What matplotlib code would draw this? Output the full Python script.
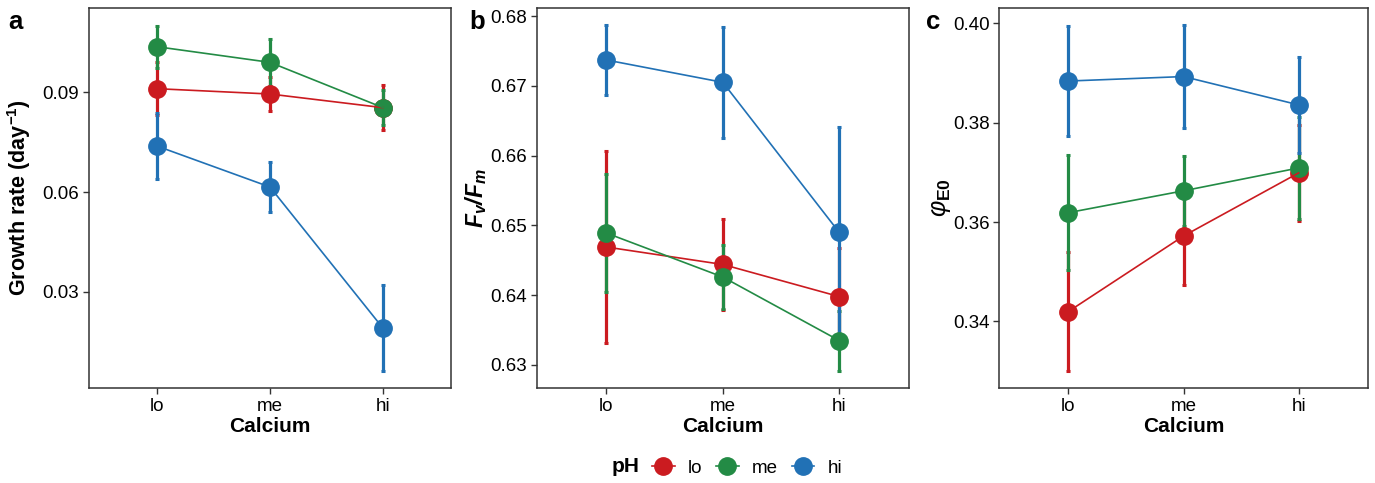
import numpy as np
import matplotlib.pyplot as plt
from matplotlib.lines import Line2D

plt.rcParams['font.family'] = ['Liberation Sans', 'DejaVu Sans']
plt.rcParams['mathtext.fontset'] = 'custom'
plt.rcParams['mathtext.rm'] = 'Liberation Sans'
plt.rcParams['mathtext.it'] = 'Liberation Sans:italic'
plt.rcParams['mathtext.bf'] = 'Liberation Sans:bold'
plt.rcParams['mathtext.bfit'] = 'Liberation Sans:bold:italic'

# данные
calcium = ['lo', 'me', 'hi']
ph_levels = ['lo', 'me', 'hi']
colors = {'lo': '#CB1B20', 'me': '#238B45', 'hi': '#2171B5'}

growth_mean = {'lo': [0.0910, 0.0894, 0.0853],
               'me': [0.1036, 0.0989, 0.0853],
               'hi': [0.0738, 0.0615, 0.0191]}
growth_err = {'lo': [0.0079, 0.0050, 0.0067],
              'me': [0.0063, 0.0070, 0.0053],
              'hi': [0.0098, 0.0075, 0.0129]}

fvfm_mean = {'lo': [0.6469, 0.6444, 0.6398],
             'me': [0.6489, 0.6426, 0.6335],
             'hi': [0.6737, 0.6705, 0.6490]}
fvfm_err = {'lo': [0.0138, 0.0065, 0.0069],
            'me': [0.0085, 0.0046, 0.0043],
            'hi': [0.0050, 0.0080, 0.0151]}

phi_mean = {'lo': [0.3420, 0.3572, 0.3699],
            'me': [0.3619, 0.3663, 0.3709],
            'hi': [0.3884, 0.3893, 0.3836]}
phi_err = {'lo': [0.0120, 0.0099, 0.0097],
           'me': [0.0116, 0.0071, 0.0102],
           'hi': [0.0110, 0.0103, 0.0096]}

panels = [
    dict(mean=growth_mean, err=growth_err, ylabel=r'$\mathbf{Growth\ rate\ (day^{-1})}$',
         yticks=[0.03, 0.06, 0.09], ylim=(0.0012, 0.1152), letter='a', lab_size=15.5,
         pos=[0.0647, 0.1967, 0.2633, 0.7867], lab_x=-0.155, let_x=8),
    dict(mean=fvfm_mean, err=fvfm_err, ylabel=r'$\mathbfit{F_v/F_m}$',
         yticks=[0.63, 0.64, 0.65, 0.66, 0.67, 0.68], ylim=(0.6267, 0.68115), letter='b',
         lab_size=16.5, pos=[0.3903, 0.1967, 0.2708, 0.7867], lab_x=-0.128, let_x=469),
    dict(mean=phi_mean, err=phi_err, ylabel=r'$\varphi_{\mathbf{E0}}$',
         yticks=[0.34, 0.36, 0.38, 0.40], ylim=(0.3266, 0.4031), letter='c',
         lab_size=18, pos=[0.7268, 0.1967, 0.2679, 0.7867], lab_x=-0.126, let_x=926),
]

fig = plt.figure(figsize=(13.75, 4.83), dpi=100)
x = np.arange(1, len(calcium) + 1)

for p in panels:
    ax = fig.add_axes(p['pos'])
    for ph in ph_levels:
        c = colors[ph]
        ax.errorbar(x, p['mean'][ph], yerr=p['err'][ph], fmt='none', ecolor=c,
                    elinewidth=2.3, capsize=1.6, capthick=2.2, zorder=2)
        ax.plot(x, p['mean'][ph], 'o', color=c, ms=12.5, zorder=3)
    for ph in ph_levels:
        ax.plot(x, p['mean'][ph], '-', color=colors[ph], lw=1.2, zorder=4)

    ax.set_xlim(0.4, 3.6)
    ax.set_ylim(*p['ylim'])
    ax.set_xticks(x)
    ax.set_xticklabels(calcium)
    ax.set_yticks(p['yticks'])
    ax.set_yticklabels([f'{v:.2f}' for v in p['yticks']])
    ax.tick_params(labelsize=13.5, length=4, width=1, color='#333333', labelcolor='black', pad=3)
    for s in ax.spines.values():
        s.set_color('#333333')
        s.set_linewidth(1.1)
    ax.set_xlabel('Calcium', fontsize=15, fontweight='bold', labelpad=2)
    ax.set_ylabel(p['ylabel'], fontsize=p['lab_size'])
    ax.yaxis.set_label_coords(p['lab_x'], 0.5)
    fig.text(p['let_x'] / 1375, 1 - 29 / 483, p['letter'], fontsize=18.5,
             fontweight='bold', ha='left', va='baseline')

# легенда
handles = [Line2D([], [], color=colors[ph], marker='o', ms=12.5, lw=1.2) for ph in ph_levels]
fig.text(612 / 1375, 16 / 483, 'pH', fontsize=15, fontweight='bold', ha='left', va='center')
fig.legend(handles, ph_levels, ncol=3, loc='center left', bbox_to_anchor=(652 / 1375, 15 / 483),
           frameon=False, fontsize=13.5, handlelength=1.2, handletextpad=0.7,
           columnspacing=0.75, borderaxespad=0, borderpad=0)

plt.savefig('out.png', dpi=100)
